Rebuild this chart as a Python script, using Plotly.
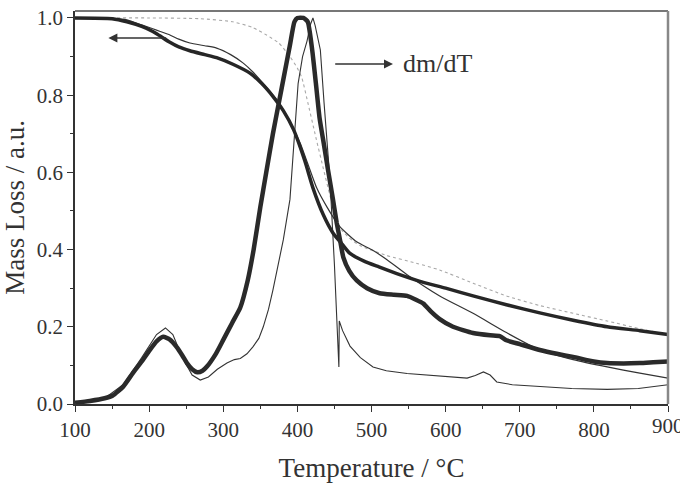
import plotly.graph_objects as go

# ---------------- data ----------------
# Thick TG curve
tg_a_T = [100, 150, 170, 190, 205, 215, 228, 240, 255, 275, 291, 313, 336, 352, 367, 381, 395, 410, 421,
          435, 448, 460, 471, 490, 510, 538, 570, 600, 637, 682, 727, 772, 818, 862, 900]
tg_a_y = [1.0, 0.998, 0.99, 0.978, 0.965, 0.953, 0.937, 0.925, 0.915, 0.905, 0.897, 0.88, 0.857, 0.83, 0.797,
          0.76, 0.71, 0.63, 0.56, 0.49, 0.443, 0.415, 0.39, 0.37, 0.355, 0.335, 0.315, 0.30, 0.28, 0.257,
          0.236, 0.217, 0.20, 0.19, 0.18]

# Thin TG curve
tg_b_T = [100, 150, 170, 190, 205, 215, 228, 240, 255, 275, 291, 310, 327, 340, 354, 372, 390, 404, 426,
          440, 457, 480, 500, 520, 548, 592, 637, 682, 727, 772, 818, 862, 900]
tg_b_y = [1.0, 0.999, 0.995, 0.982, 0.972, 0.965, 0.956, 0.945, 0.935, 0.928, 0.922, 0.905, 0.883, 0.86,
          0.83, 0.788, 0.73, 0.675, 0.56, 0.51, 0.46, 0.42, 0.40, 0.375, 0.335, 0.28, 0.235, 0.185, 0.14,
          0.115, 0.096, 0.08, 0.067]

# Dotted TG curve
tg_c_T = [100, 200, 269, 313, 340, 359, 375, 390, 400, 406, 413, 425, 435, 444, 453, 460, 470, 485, 520,
          560, 592, 637, 682, 727, 772, 818, 862, 900]
tg_c_y = [1.0, 1.0, 0.998, 0.99, 0.975, 0.955, 0.935, 0.90, 0.87, 0.845, 0.79, 0.69, 0.61, 0.54, 0.475,
          0.45, 0.43, 0.41, 0.385, 0.365, 0.347, 0.313, 0.28, 0.255, 0.235, 0.215, 0.195, 0.18]

# Thick dm/dT curve
dtg_d_T = [100, 120, 140, 151, 165, 178, 190, 201, 210, 219, 228, 237, 245, 251, 258, 265, 272, 278, 290,
           300, 312, 323, 333, 341, 350, 358, 367, 375, 383, 390, 396, 400, 408, 414, 420, 425, 430, 436,
           441, 448, 453, 458, 462, 470, 480, 494, 511, 530, 548, 560, 570, 580, 592, 610, 637, 660, 673,
           682, 700, 727, 750, 772, 800, 818, 840, 862, 880, 900]
dtg_d_y = [0.003, 0.008, 0.015, 0.022, 0.045, 0.08, 0.11, 0.14, 0.162, 0.174, 0.167, 0.148, 0.125, 0.106,
           0.09, 0.082, 0.086, 0.097, 0.13, 0.166, 0.21, 0.25, 0.32, 0.40, 0.51, 0.60, 0.70, 0.78, 0.86,
           0.93, 0.99, 1.0, 1.0, 0.99, 0.917, 0.83, 0.74, 0.67, 0.61, 0.53, 0.47, 0.42, 0.38, 0.345, 0.32,
           0.30, 0.287, 0.283, 0.28, 0.27, 0.26, 0.24, 0.22, 0.20, 0.184, 0.178, 0.176, 0.165, 0.155, 0.14,
           0.13, 0.122, 0.11, 0.106, 0.105, 0.106, 0.108, 0.11]

# Thin dm/dT curve
dtg_e_T = [100, 140, 165, 190, 210, 222, 232, 245, 258, 269, 280, 292, 305, 315, 323, 332, 340, 348, 354,
           361, 367, 374, 381, 390, 396, 401, 407, 413, 418, 421, 424, 428, 431, 436, 444, 450, 455, 456,
           456.5, 461, 471, 485, 502, 520, 548, 580, 610, 629, 640, 651, 660, 669, 690, 727, 770, 818, 860, 900]
dtg_e_y = [0.003, 0.015, 0.05, 0.12, 0.18, 0.197, 0.18, 0.12, 0.075, 0.062, 0.07, 0.09, 0.106, 0.115, 0.118,
           0.13, 0.148, 0.17, 0.2, 0.245, 0.295, 0.36, 0.425, 0.53, 0.68, 0.83, 0.9, 0.94, 0.985, 1.0, 0.98,
           0.94, 0.917, 0.78, 0.58, 0.36, 0.12, 0.096, 0.215, 0.19, 0.15, 0.12, 0.096, 0.086, 0.079, 0.074,
           0.07, 0.067, 0.074, 0.083, 0.075, 0.057, 0.05, 0.045, 0.04, 0.038, 0.04, 0.05]

x_ticks = [100, 200, 300, 400, 500, 600, 700, 800, 900]
x_ticklabels = ["100", "200", "300", "400", "500", "600", "700", "800", ""]
y_ticks = [0.0, 0.2, 0.4, 0.6, 0.8, 1.0]
y_ticklabels = ["0.0", "0.2", "0.4", "0.6", "0.8", "1.0"]

FONT = "Liberation Serif"
TXT = "#333333"

fig = go.Figure()
fig.add_trace(go.Scatter(x=tg_c_T, y=tg_c_y, mode="lines",
                         line=dict(color="#a8a8a8", width=1.1, dash="dot", shape="spline", smoothing=0.6)))
fig.add_trace(go.Scatter(x=dtg_e_T, y=dtg_e_y, mode="lines",
                         line=dict(color="#333333", width=1.1)))
fig.add_trace(go.Scatter(x=tg_b_T, y=tg_b_y, mode="lines",
                         line=dict(color="#333333", width=1.2, shape="spline", smoothing=0.6)))
fig.add_trace(go.Scatter(x=tg_a_T, y=tg_a_y, mode="lines",
                         line=dict(color="#262626", width=3.5, shape="spline", smoothing=0.6)))
fig.add_trace(go.Scatter(x=dtg_d_T, y=dtg_d_y, mode="lines",
                         line=dict(color="#2a2a2a", width=4.5, shape="spline", smoothing=0.5)))

# arrows and label
fig.add_annotation(x=145, y=0.948, ax=225, ay=0.948, xref="x", yref="y", axref="x", ayref="y",
                   text="", showarrow=True, arrowhead=2, arrowsize=1.2, arrowwidth=1.5,
                   arrowcolor=TXT)
fig.add_annotation(x=529, y=0.881, ax=449, ay=0.881, xref="x", yref="y", axref="x", ayref="y",
                   text="", showarrow=True, arrowhead=2, arrowsize=1.2, arrowwidth=1.5,
                   arrowcolor=TXT)
fig.add_annotation(x=540, y=0.881, xref="x", yref="y", text="dm/dT", showarrow=False,
                   xanchor="left", yanchor="middle",
                   font=dict(family=FONT, size=26, color=TXT))
# last x tick label (clipped by the page edge, as in the reference)
fig.add_annotation(x=900, y=0, xref="x", yref="paper", text="900", showarrow=False,
                   xanchor="center", yanchor="top", yshift=-8,
                   font=dict(family=FONT, size=21, color=TXT))

# grey top/right frame
fig.add_shape(type="line", xref="paper", yref="paper", x0=0, x1=1, y0=1, y1=1,
              line=dict(color="#777777", width=2))
fig.add_shape(type="line", xref="paper", yref="paper", x0=1, x1=1, y0=0, y1=1,
              line=dict(color="#888888", width=2.5))

fig.update_layout(
    template="none",
    width=680, height=483,
    margin=dict(l=75, r=12, t=11, b=79),
    paper_bgcolor="white", plot_bgcolor="white",
    showlegend=False,
    font=dict(family=FONT, color=TXT),
    xaxis=dict(range=[100, 900], tickvals=x_ticks, ticktext=x_ticklabels, ticks="outside", ticklen=6,
               tickwidth=1.2, tickcolor=TXT, showline=True, linecolor=TXT, linewidth=1.5,
               showgrid=False, zeroline=False, tickfont=dict(family=FONT, size=21, color=TXT),
               minor=dict(dtick=50, tick0=100, ticks="outside", ticklen=3, tickcolor=TXT),
               title=dict(text="Temperature / °C", font=dict(family=FONT, size=27, color=TXT),
                          standoff=21)),
    yaxis=dict(range=[0, 1.018], tickvals=y_ticks, ticktext=y_ticklabels, ticks="outside", ticklen=6,
               tickwidth=1.2, tickcolor=TXT, showline=True, linecolor=TXT, linewidth=1.5,
               showgrid=False, zeroline=False, tickfont=dict(family=FONT, size=21, color=TXT),
               minor=dict(dtick=0.1, tick0=0, ticks="outside", ticklen=3, tickcolor=TXT),
               title=dict(text="Mass Loss / a.u.", font=dict(family=FONT, size=27, color=TXT),
                          standoff=14)),
)

fig.write_html("out.html")
